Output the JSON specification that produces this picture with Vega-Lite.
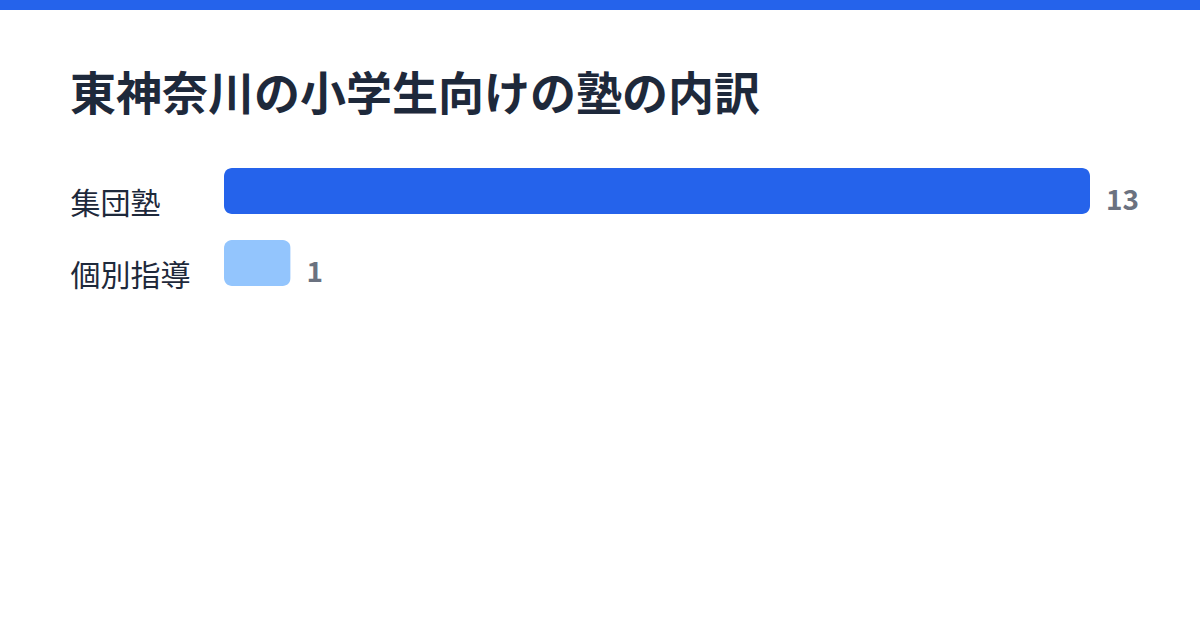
{
  "$schema": "https://vega.github.io/schema/vega-lite/v6.json",
  "width": 866,
  "height": 118,
  "autosize": {"type": "none"},
  "padding": {"left": 224, "top": 168, "right": 110, "bottom": 344},
  "background": "white",
  "title": {
    "text": "東神奈川の小学生向けの塾の内訳",
    "anchor": "start",
    "frame": "group",
    "dx": -154,
    "baseline": "alphabetic",
    "font": "Noto Sans CJK JP",
    "fontSize": 46,
    "fontWeight": "bold",
    "color": "#1e293b",
    "offset": -156
  },
  "config": {
    "view": {"stroke": null},
    "font": "Noto Sans CJK JP"
  },
  "data": {
    "values": [
      {"type": "集団塾", "count": 13},
      {"type": "個別指導", "count": 1}
    ]
  },
  "layer": [
    {
      "data": {"values": [{}]},
      "mark": {"type": "rect", "color": "#2563eb", "clip": false},
      "encoding": {
        "x": {"value": -224},
        "x2": {"value": 976},
        "y": {"value": -168},
        "y2": {"value": -158}
      }
    },
    {
      "mark": {"type": "bar", "cornerRadius": 8},
      "encoding": {
        "y": {
          "field": "type",
          "type": "nominal",
          "sort": null,
          "scale": {"paddingInner": 0.361, "paddingOuter": 0},
          "axis": {
            "title": null,
            "ticks": false,
            "domain": false,
            "labelAlign": "left",
            "labelPadding": 154,
            "labelOffset": 14,
            "labelFontSize": 30,
            "labelColor": "#1e293b",
            "labelFont": "Noto Sans CJK JP"
          }
        },
        "x": {
          "field": "count",
          "type": "quantitative",
          "scale": {"domain": [0, 13], "nice": false},
          "axis": null
        },
        "color": {
          "field": "type",
          "type": "nominal",
          "scale": {"domain": ["集団塾", "個別指導"], "range": ["#2563eb", "#93c5fd"]},
          "legend": null
        }
      }
    },
    {
      "mark": {
        "type": "text",
        "align": "left",
        "baseline": "middle",
        "dx": 16,
        "dy": 11,
        "fontSize": 28,
        "fontWeight": "bold",
        "color": "#6b7280"
      },
      "encoding": {
        "y": {"field": "type", "type": "nominal", "sort": null},
        "x": {"field": "count", "type": "quantitative"},
        "text": {"field": "count", "type": "quantitative"}
      }
    }
  ]
}
